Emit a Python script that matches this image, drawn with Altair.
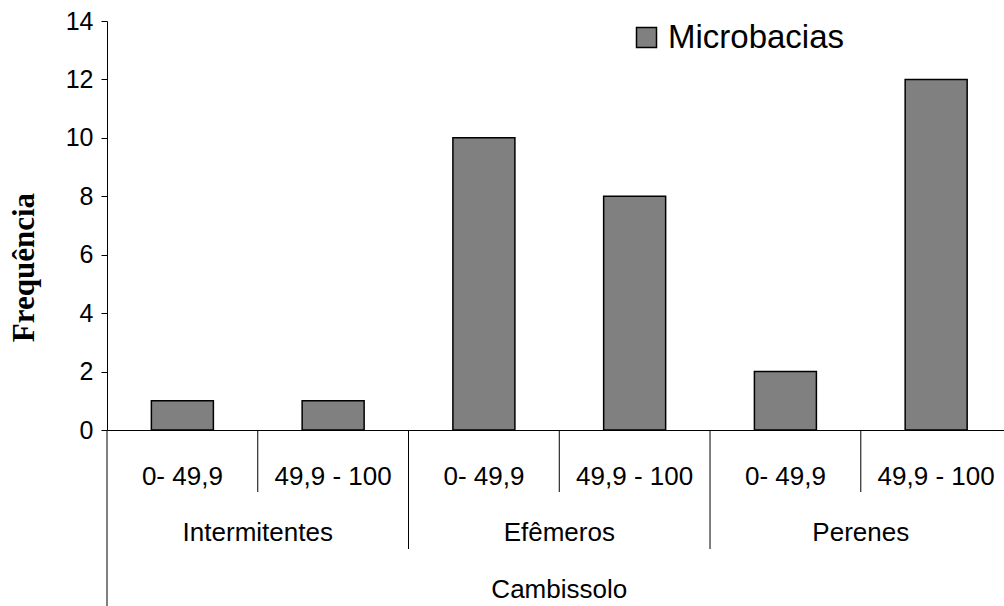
import altair as alt
import pandas as pd

# ---- data ----
subcats = ["0- 49,9", "49,9 - 100", "0- 49,9", "49,9 - 100", "0- 49,9", "49,9 - 100"]
groups = ["Intermitentes", "Efêmeros", "Perenes"]
values = [1, 1, 10, 8, 2, 12]
soil = "Cambissolo"
series = "Microbacias"
y_ticks = [0, 2, 4, 6, 8, 10, 12, 14]

bars_df = pd.DataFrame({
    "pos": [i + 0.5 for i in range(len(values))],
    "sub": subcats,
    "value": values,
    "serie": [series] * len(values),
})
group_df = pd.DataFrame({"pos": [2 * i + 1 for i in range(len(groups))], "group": groups})
short_df = pd.DataFrame({"pos": [1, 3, 5]})
long_df = pd.DataFrame({"pos": [2, 4]})
soil_df = pd.DataFrame({"pos": [len(values) / 2], "label": [soil]})

FONT = "Liberation Sans"
xscale = alt.Scale(domain=[0, 5.95], nice=False, zero=False, padding=0)
x_enc = alt.X("pos:Q", scale=xscale,
              axis=alt.Axis(labels=False, ticks=False, title=None, grid=False,
                            domainColor="black", domainWidth=1))

bars = alt.Chart(bars_df).mark_bar(size=62, stroke="black", strokeWidth=1.5).encode(
    x=x_enc,
    y=alt.Y("value:Q", scale=alt.Scale(domain=[0, 14], nice=False),
            axis=alt.Axis(values=y_ticks, title="Frequência", grid=False,
                          titleFont="Liberation Serif", titleFontSize=31, titleFontWeight="bold",
                          titleColor="black", titleAngle=270, titleX=-74, titleY=246,
                          titleAlign="center", titleBaseline="alphabetic",
                          labelFont=FONT, labelFontSize=25, labelColor="black", labelPadding=8,
                          tickSize=6, tickColor="black", domainColor="black")),
    color=alt.Color("serie:N", scale=alt.Scale(range=["#808080"]),
                    legend=alt.Legend(title=None, orient="none", legendX=523, legendY=0,
                                      symbolType="square", symbolSize=400,
                                      symbolStrokeColor="black", symbolStrokeWidth=1.5,
                                      labelFont=FONT, labelFontSize=33, labelColor="black",
                                      labelOffset=5, labelLimit=0)),
)

short_rules = alt.Chart(short_df).mark_rule(color="black", strokeWidth=1).encode(
    x=alt.X("pos:Q", scale=xscale), y=alt.value(409), y2=alt.value(471))
long_rules = alt.Chart(long_df).mark_rule(color="black", strokeWidth=1).encode(
    x=alt.X("pos:Q", scale=xscale), y=alt.value(409), y2=alt.value(528))
left_rule = alt.Chart(soil_df).mark_rule(color="black", strokeWidth=1).encode(
    x=alt.value(0), y=alt.value(409), y2=alt.value(585))

sub_text = alt.Chart(bars_df).mark_text(font=FONT, fontSize=26, color="black",
                                         align="center", baseline="middle").encode(
    x=alt.X("pos:Q", scale=xscale), y=alt.value(456), text="sub:N")
group_text = alt.Chart(group_df).mark_text(font=FONT, fontSize=26, color="black",
                                            align="center", baseline="middle").encode(
    x=alt.X("pos:Q", scale=xscale), y=alt.value(512), text="group:N")
soil_text = alt.Chart(soil_df).mark_text(font=FONT, fontSize=26, color="black",
                                          align="center", baseline="middle").encode(
    x=alt.X("pos:Q", scale=xscale), y=alt.value(569), text="label:N")

chart = alt.layer(bars, short_rules, long_rules, left_rule, sub_text, group_text, soil_text).properties(
    width=897, height=409,
    padding={"left": 107, "top": 21, "right": 0, "bottom": 176},
    autosize="none",
).configure_view(stroke=None).configure_axis(grid=False)

chart.save("out.html", embed_options={"renderer": "svg", "actions": False})
